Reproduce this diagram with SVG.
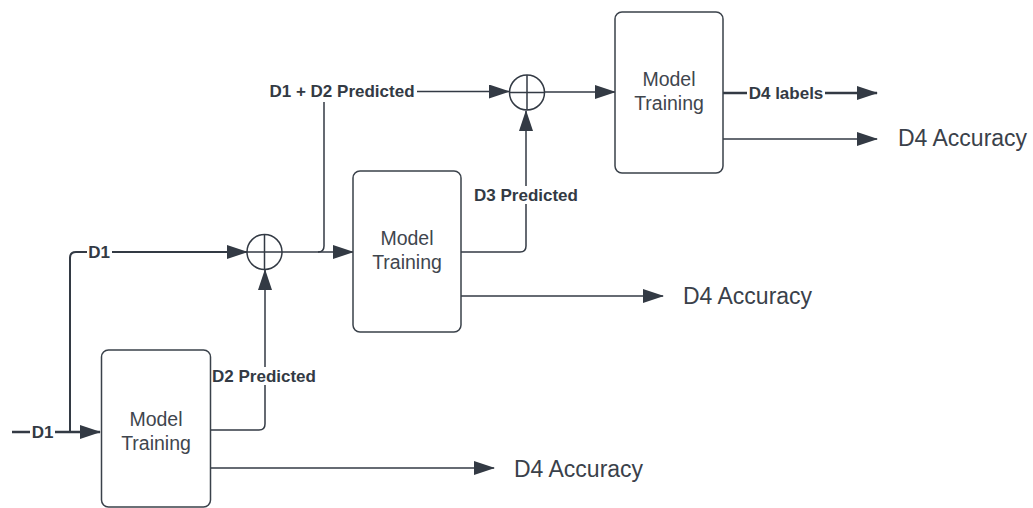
<svg xmlns="http://www.w3.org/2000/svg" width="1033" height="508" viewBox="0 0 1033 508">
<defs>
<marker id="arr" markerUnits="userSpaceOnUse" markerWidth="21" markerHeight="14" refX="20" refY="7" orient="auto">
<path d="M0,0 L21,7 L0,14 z" fill="#333a44"/>
</marker>
<style>
.box{fill:#ffffff;stroke:#3a414a;stroke-width:1.5}
.bt{font-family:"Liberation Sans",Arial,sans-serif;font-size:19.5px;fill:#3f464e;text-anchor:middle}
.ln{fill:none;stroke:#333a44;stroke-width:1.5}
.thick{stroke-width:2.5}
.lbl{font-family:"Liberation Sans",Arial,sans-serif;font-size:17px;font-weight:bold;fill:#333a44;text-anchor:middle}
.lbg{fill:#ffffff}
.acc{font-family:"Liberation Sans",Arial,sans-serif;font-size:23px;fill:#3a414a}
.circ{fill:#ffffff;stroke:#333a44;stroke-width:1.5}
</style>
</defs>
<rect width="1033" height="508" fill="#ffffff"/>

<g id="connectors">
<path class="ln thick" d="M12,432 H100" marker-end="url(#arr)"/>
<path class="ln" style="stroke-width:2" d="M70,432 V258 Q70,252 76,252 H247" marker-end="url(#arr)"/>
<path class="ln" d="M211,430 H259 Q265,430 265,424 V270" marker-end="url(#arr)"/>
<path class="ln" d="M211,468 H494" marker-end="url(#arr)"/>
<path class="ln" d="M282,252 H353" marker-end="url(#arr)"/>
<path class="ln" d="M318,252 Q324,252 324,246 V97 Q324,91.5 330,91.5 H509" marker-end="url(#arr)"/>
<path class="ln" d="M461,252 H520 Q526,252 526,246 V111" marker-end="url(#arr)"/>
<path class="ln" d="M461,296 H663" marker-end="url(#arr)"/>
<path class="ln" d="M545,92 H615" marker-end="url(#arr)"/>
<path class="ln thick" d="M723,93 H877" marker-end="url(#arr)"/>
<path class="ln" d="M723,139 H877" marker-end="url(#arr)"/>

<rect class="lbg" x="30" y="424" width="25" height="16"/>
<text class="lbl" x="42.5" y="438">D1</text>
<rect class="lbg" x="87" y="244" width="25" height="16"/>
<text class="lbl" x="99" y="258">D1</text>
<rect class="lbg" x="209" y="367" width="110" height="18"/>
<text class="lbl" x="264" y="382">D2 Predicted</text>
<rect class="lbg" x="267" y="82" width="150" height="20"/>
<text class="lbl" x="342" y="97">D1 + D2 Predicted</text>
<rect class="lbg" x="471" y="186" width="110" height="18"/>
<text class="lbl" x="526" y="201">D3 Predicted</text>
<rect class="lbg" x="747" y="85" width="78" height="16"/>
<text class="lbl" x="786" y="99">D4 labels</text>
</g>

<g id="node-train1">
<rect class="box" x="101.5" y="350" width="109" height="157" rx="7"/>
<text class="bt" x="156" y="425.5">Model</text>
<text class="bt" x="156" y="449.5">Training</text>
</g>

<g id="node-train2">
<rect class="box" x="353" y="171" width="108" height="161" rx="7"/>
<text class="bt" x="407" y="245">Model</text>
<text class="bt" x="407" y="269">Training</text>
</g>

<g id="node-train3">
<rect class="box" x="615" y="12" width="108" height="161" rx="7"/>
<text class="bt" x="669" y="86">Model</text>
<text class="bt" x="669" y="110">Training</text>
</g>

<g id="node-sum1">
<circle class="circ" cx="264.5" cy="252" r="17.5"/>
<path class="ln" d="M247,252 H282 M264.5,234.5 V269.5"/>
</g>

<g id="node-sum2">
<circle class="circ" cx="527" cy="92.5" r="17.5"/>
<path class="ln" d="M509.5,92.5 H544.5 M527,75 V110"/>
</g>

<g id="node-acc1">
<text class="acc" x="514" y="477">D4 Accuracy</text>
</g>
<g id="node-acc2">
<text class="acc" x="683" y="304">D4 Accuracy</text>
</g>
<g id="node-acc3">
<text class="acc" x="898" y="146">D4 Accuracy</text>
</g>
</svg>
